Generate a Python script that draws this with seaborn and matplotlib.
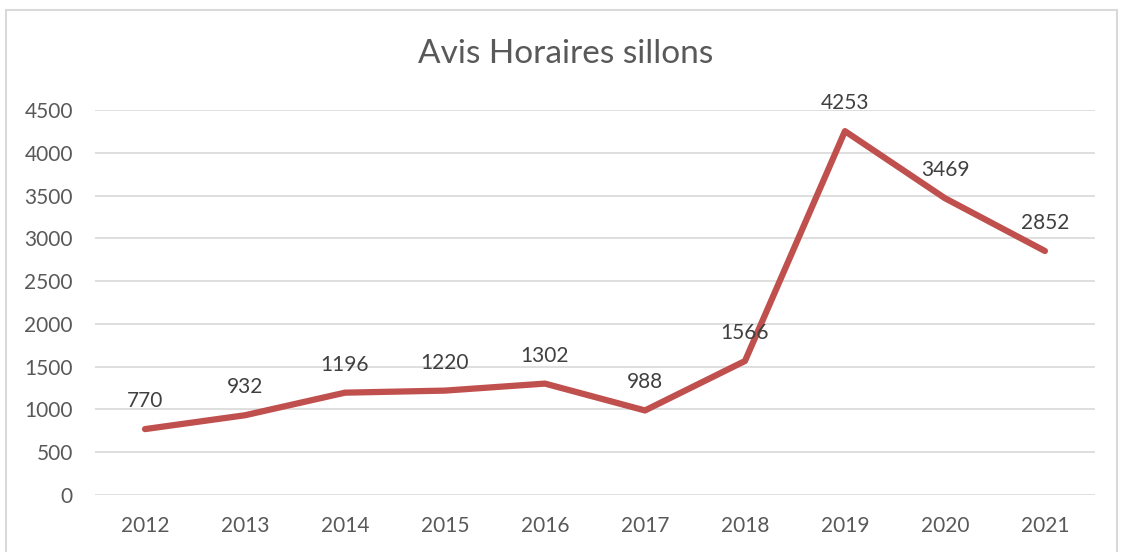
import seaborn as sns
import matplotlib.pyplot as plt
from matplotlib.patches import Rectangle
import pandas as pd

# Chart values
years = ['2012', '2013', '2014', '2015', '2016', '2017', '2018', '2019', '2020', '2021']
avis = [770, 932, 1196, 1220, 1302, 988, 1566, 4253, 3469, 2852]

df = pd.DataFrame({'annee': years, 'avis': avis})

sns.set_style('white')
plt.rcParams['font.family'] = ['Lato', 'DejaVu Sans']

fig = plt.figure(figsize=(11.23, 5.52), dpi=100)
ax = fig.add_axes([0.0846, 0.1033, 0.8904, 0.6974])

sns.lineplot(data=df, x='annee', y='avis', color='#C0504D', lw=4.5, ax=ax,
             solid_capstyle='round', solid_joinstyle='round', sort=False)

# Data labels above each point
for i, v in enumerate(avis):
    ax.annotate(str(v), (i, v), xytext=(0, 13), textcoords='offset points',
                ha='center', va='bottom', fontsize=15, color='#404040')

ax.set_xlim(-0.5, len(years) - 0.5)
ax.set_ylim(0, 4500)
ax.set_yticks(range(0, 4501, 500))
ax.yaxis.grid(True, color='#D9D9D9', lw=1.2)
ax.set_axisbelow(True)
for s in ax.spines.values():
    s.set_visible(False)
ax.tick_params(axis='both', length=0, labelsize=15, labelcolor='#595959')
ax.tick_params(axis='y', pad=16)
ax.tick_params(axis='x', pad=15)
ax.set_xlabel('')
ax.set_ylabel('')

fig.text(0.504, 0.902, 'Avis Horaires sillons', ha='center', va='center',
         fontsize=24, color='#595959')

# Chart area border
fig.patches.append(Rectangle((6 / 1123, -0.02), 1111 / 1123, 1 - 10 / 552 + 0.02,
                             transform=fig.transFigure, fill=False,
                             edgecolor='#D9D9D9', lw=1.5))

fig.savefig('out.png', dpi=100)
